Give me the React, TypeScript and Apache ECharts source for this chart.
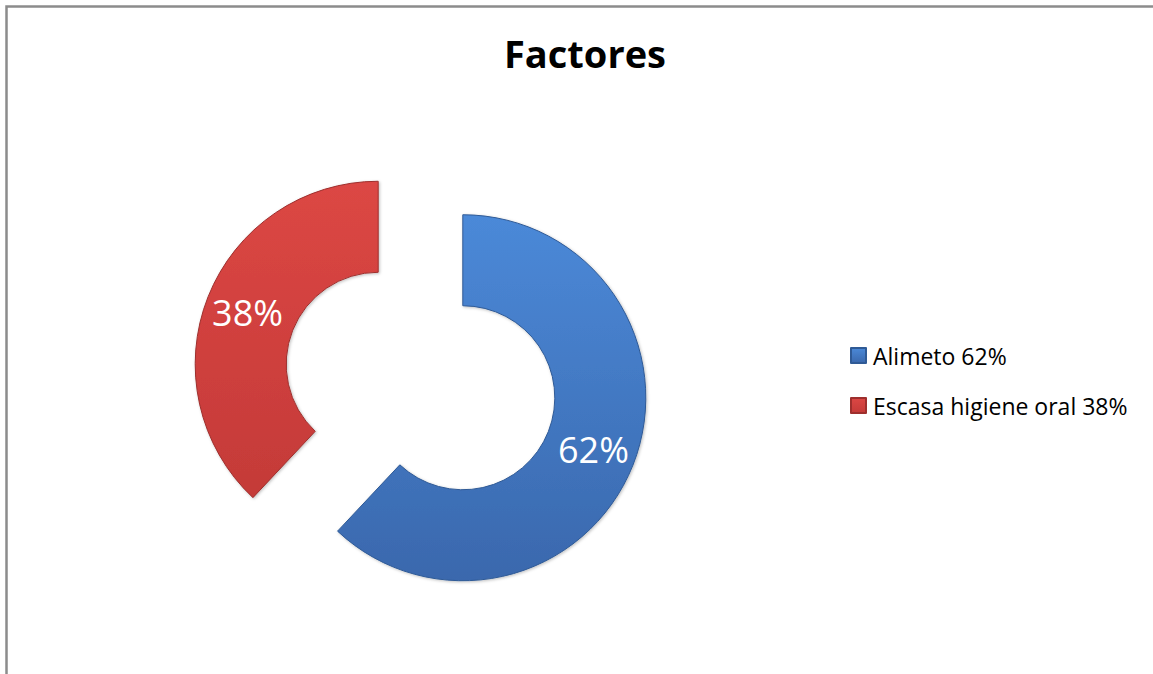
import React, { useEffect, useRef } from "react";
import * as echarts from "echarts";

const categories = ["Alimeto 62%", "Escasa higiene oral 38%"];
const values = [62, 38];
const topColors = ["#4b89d8", "#dc4744"];
const bottomColors = ["#3a68ad", "#c43a38"];
const edgeColors = ["#2f5a96", "#9e2f2d"];

const fontFamily = "'Open Sans', 'Noto Sans', sans-serif";

export default function App() {
  const ref = useRef<HTMLDivElement>(null);

  useEffect(() => {
    if (!ref.current) return;
    const chart = echarts.init(ref.current, undefined, { renderer: "svg" });

    const grad = (i: number) =>
      new echarts.graphic.LinearGradient(0, 0, 0, 1, [
        { offset: 0, color: topColors[i] },
        { offset: 1, color: bottomColors[i] },
      ]);

    const data = categories.map((name, i) => {
      const style = {
        color: grad(i),
        borderColor: edgeColors[i],
        borderWidth: 1,
        shadowColor: "rgba(0,0,0,0.25)",
        shadowBlur: 3,
        shadowOffsetX: 1,
        shadowOffsetY: 1,
      };
      return {
        name,
        value: values[i],
        selected: true,
        itemStyle: style,
        select: { itemStyle: style },
      };
    });

    chart.setOption({
      animation: false,
      backgroundColor: "#ffffff",
      title: {
        text: "Factores",
        left: 580,
        top: 29,
        textAlign: "center",
        textStyle: {
          fontFamily,
          fontWeight: "bold",
          fontSize: 38,
          color: "#000000",
        },
      },
      legend: {
        orient: "vertical",
        left: 845,
        top: 339,
        itemWidth: 15,
        itemHeight: 15,
        itemGap: 27,
        icon: "rect",
        selectedMode: false,
        textStyle: {
          fontFamily,
          fontSize: 23,
          color: "#000000",
          padding: [0, 0, 0, 2],
        },
        data: categories,
      },
      graphic: [
        {
          type: "rect",
          left: 4,
          top: 4,
          shape: { x: 0, y: 0, width: 1170, height: 690 },
          style: { fill: "none", stroke: "#8c8c8c", lineWidth: 2.5 },
          silent: true,
        },
      ],
      series: [
        {
          type: "pie",
          center: [420.5, 381],
          radius: [92, 183],
          startAngle: 90,
          clockwise: true,
          selectedMode: "multiple",
          selectedOffset: 45.5,
          avoidLabelOverlap: false,
          emphasis: { disabled: true },
          label: {
            show: true,
            position: "inside",
            formatter: "{d}%",
            color: "#ffffff",
            fontFamily,
            fontSize: 36,
          },
          labelLine: { show: false },
          data,
        },
      ],
    });

    return () => chart.dispose();
  }, []);

  return (
    <div
      ref={ref}
      style={{ position: "fixed", left: 0, top: 0, width: 1153, height: 674 }}
    />
  );
}
